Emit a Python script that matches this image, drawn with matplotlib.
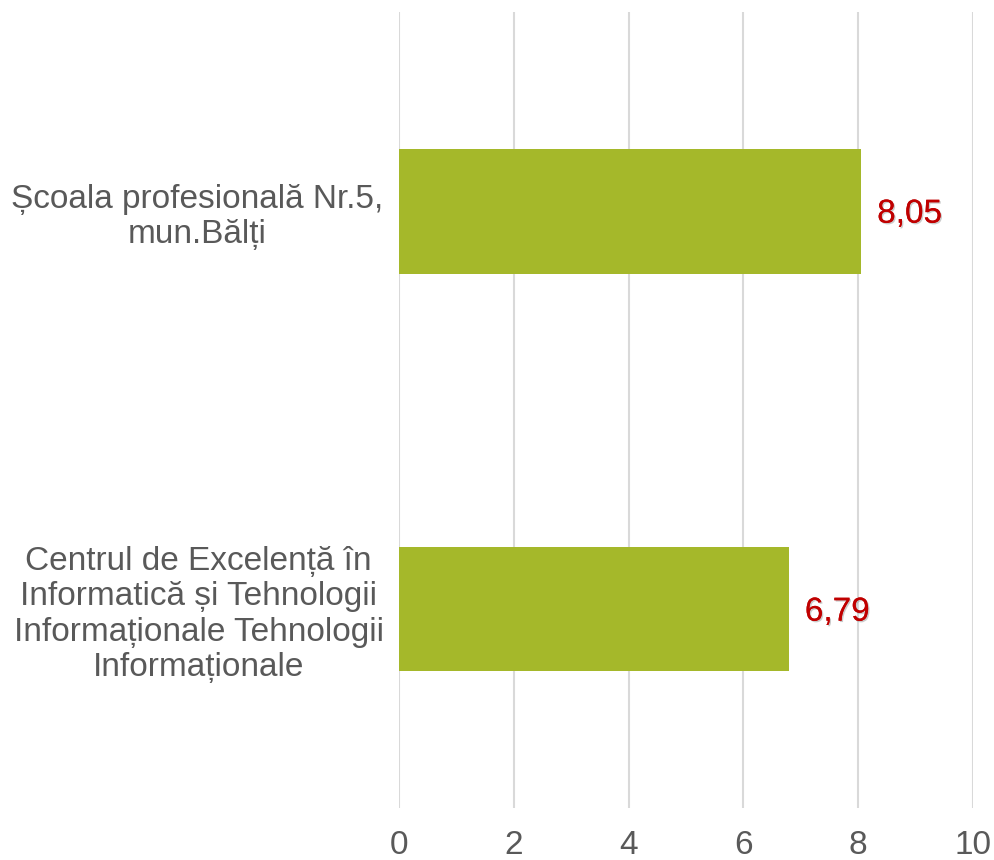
import matplotlib.pyplot as plt
import matplotlib.patheffects as pe

categories = ["Centrul de Excelență în\nInformatică și Tehnologii\nInformaționale Tehnologii\nInformaționale",
              "Școala profesională Nr.5,\nmun.Bălți"]
values = [6.79, 8.05]
value_labels = ["6,79", "8,05"]
xticks = [0, 2, 4, 6, 8, 10]

plt.rcParams['font.family'] = ['Liberation Sans', 'DejaVu Sans']

fig = plt.figure(figsize=(9.94, 8.6), dpi=100)
ax = fig.add_axes([0.4014, 0.0605, 0.5775, 0.9255])

ypos = list(range(len(categories)))
ax.barh(ypos, values, height=0.314, color='#a5b82a', zorder=2)

for y, v, lab in zip(ypos, values, value_labels):
    ax.text(v + 0.28, y - 0.008, lab, color='#c00000', fontsize=24, va='center', ha='left',
            path_effects=[pe.withSimplePatchShadow(offset=(1, -1), shadow_rgbFace='#999999', alpha=0.5),
                          pe.Normal()])

ax.set_xlim(0, 10)
ax.set_ylim(-0.5, 1.5)
ax.set_xticks(xticks)
ax.set_xticklabels([str(t) for t in xticks])
ax.set_yticks(ypos)
ax.set_yticklabels(categories, multialignment='center', linespacing=1.17)

ax.grid(axis='x', color='#d9d9d9', linewidth=1.5, zorder=0)
for s in ax.spines.values():
    s.set_visible(False)
ax.tick_params(axis='both', length=0, labelsize=24, labelcolor='#595959')
ax.tick_params(axis='x', pad=16)
ax.tick_params(axis='y', pad=11)

fig.savefig('out.png', dpi=100)
